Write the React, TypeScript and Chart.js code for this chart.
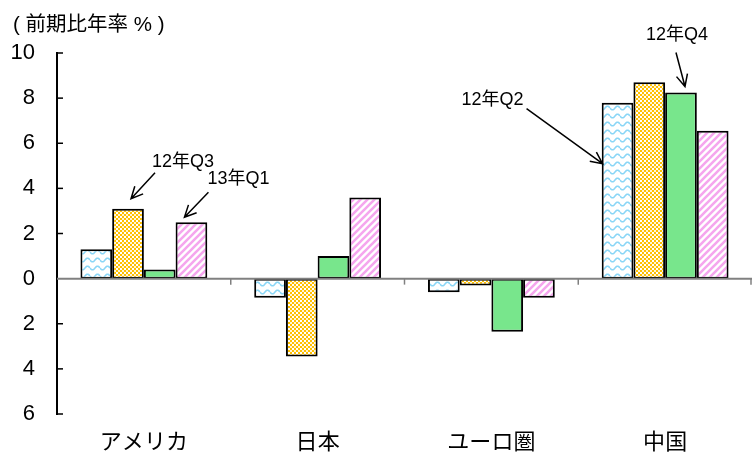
import React, { useEffect, useRef } from "react";
import { Chart, registerables } from "chart.js";

Chart.register(...registerables);

const categories = ["アメリカ", "日本", "ユーロ圏", "中国"];
const seriesNames = ["12年Q2", "12年Q3", "12年Q4", "13年Q1"];
const q2_2012 = [1.3, -0.85, -0.6, 7.8];
const q3_2012 = [3.1, -3.45, -0.3, 8.7];
const q4_2012 = [0.4, 1.0, -2.35, 8.25];
const q1_2013 = [2.5, 3.6, -0.85, 6.55];
const yTicks = [-6, -4, -2, 0, 2, 4, 6, 8, 10];
const unitLabel = "( 前期比年率 % )";
// which bar each callout label points at: [series index, category index]
const calloutSeries = [1, 3, 0, 2];
const calloutCategory = [0, 0, 3, 3];

const FONT = "'Liberation Sans', 'Noto Sans CJK JP', sans-serif";

// layout of callouts relative to the targeted bar (tip, tail, text) — style only
const calloutLayout = [
  { tip: [3, -10], tail: [27, -36], text: [24, -47], align: "left" },
  { tip: [-7, -5], tail: [17, -30], text: [16, -43], align: "left" },
  { tip: [-15, 61], tail: [-91, 6], text: [-156, -3], align: "left" },
  { tip: [4, -6], tail: [-5, -40], text: [-4, -57], align: "center" },
];

function makePattern(kind: string): CanvasPattern | string {
  const c = document.createElement("canvas");
  const ctx = c.getContext("2d")!;
  if (kind === "wave") {
    c.width = 10; c.height = 8;
    ctx.fillStyle = "#ffffff"; ctx.fillRect(0, 0, 10, 8);
    ctx.strokeStyle = "#8ad6f6"; ctx.lineWidth = 1.6;
    ctx.beginPath();
    for (let x = 0; x <= 10; x += 0.5) {
      const y = 4 + 1.8 * Math.sin((x / 10) * Math.PI * 2);
      if (x === 0) ctx.moveTo(x, y); else ctx.lineTo(x, y);
    }
    ctx.stroke();
  } else if (kind === "check") {
    c.width = 4; c.height = 4;
    ctx.fillStyle = "#ffc000"; ctx.fillRect(0, 0, 4, 4);
    ctx.fillStyle = "#ffffff";
    ctx.fillRect(0, 0, 2, 2);
    ctx.fillStyle = "#fff4d6";
    ctx.fillRect(2, 2, 2, 2);
  } else if (kind === "stripe") {
    c.width = 7; c.height = 7;
    ctx.fillStyle = "#ffffff"; ctx.fillRect(0, 0, 7, 7);
    ctx.strokeStyle = "#f5a6ee"; ctx.lineWidth = 2.6;
    ctx.beginPath();
    ctx.moveTo(-1, 8); ctx.lineTo(8, -1);
    ctx.moveTo(-4, 4); ctx.lineTo(4, -4);
    ctx.moveTo(3, 11); ctx.lineTo(11, 3);
    ctx.stroke();
  } else {
    return "#78e68c";
  }
  return ctx.createPattern(c, "repeat")!;
}

const overlayPlugin = {
  id: "overlay",
  afterDatasetsDraw(chart: any) {
    const { ctx, chartArea } = chart;
    const xs = chart.scales.x;
    const ys = chart.scales.y;
    const y0 = ys.getPixelForValue(0);
    ctx.save();
    ctx.strokeStyle = "#808080";
    ctx.lineWidth = 2;
    ctx.beginPath();
    ctx.moveTo(chartArea.left, y0);
    ctx.lineTo(chartArea.right, y0);
    ctx.stroke();
    ctx.lineWidth = 1.5;
    for (let i = 1; i <= categories.length; i++) {
      const x = Math.min(xs.getPixelForValue(i - 0.5), chartArea.right - 1);
      ctx.beginPath();
      ctx.moveTo(x, y0);
      ctx.lineTo(x, y0 + 6);
      ctx.stroke();
    }
    ctx.strokeStyle = "#000";
    ctx.lineWidth = 1.5;
    yTicks.forEach((v) => {
      if (v === 0) return;
      const y = ys.getPixelForValue(v);
      ctx.beginPath();
      ctx.moveTo(chartArea.left, y);
      ctx.lineTo(chartArea.left + 6, y);
      ctx.stroke();
    });
    ctx.restore();
  },
  afterDraw(chart: any) {
    const { ctx } = chart;
    ctx.save();
    ctx.fillStyle = "#000";
    ctx.font = `20.5px ${FONT}`;
    ctx.textAlign = "left";
    ctx.textBaseline = "middle";
    ctx.fillText(unitLabel, 13, 25);
    ctx.font = `18px ${FONT}`;
    ctx.strokeStyle = "#000";
    ctx.lineWidth = 1.5;
    calloutSeries.forEach((s, k) => {
      const bar = chart.getDatasetMeta(s).data[calloutCategory[k]];
      const L = calloutLayout[k];
      const bx = bar.x;
      const by = Math.min(bar.y, bar.base);
      const tip = [bx + L.tip[0], by + L.tip[1]];
      const tail = [bx + L.tail[0], by + L.tail[1]];
      ctx.beginPath();
      ctx.moveTo(tail[0], tail[1]);
      ctx.lineTo(tip[0], tip[1]);
      const ang = Math.atan2(tail[1] - tip[1], tail[0] - tip[0]);
      const len = 13;
      const spread = 0.45;
      ctx.moveTo(tip[0] + len * Math.cos(ang + spread), tip[1] + len * Math.sin(ang + spread));
      ctx.lineTo(tip[0], tip[1]);
      ctx.lineTo(tip[0] + len * Math.cos(ang - spread), tip[1] + len * Math.sin(ang - spread));
      ctx.stroke();
      ctx.textAlign = L.align as CanvasTextAlign;
      ctx.textBaseline = "middle";
      ctx.fillText(seriesNames[s], bx + L.text[0], by + L.text[1]);
    });
    ctx.restore();
  },
};

export default function App() {
  const ref = useRef<HTMLCanvasElement>(null);
  useEffect(() => {
    document.body.style.margin = "0";
    const fills = [makePattern("wave"), makePattern("check"), makePattern("solid"), makePattern("stripe")];
    const values = [q2_2012, q3_2012, q4_2012, q1_2013];
    const chart = new Chart(ref.current!, {
      type: "bar",
      data: {
        labels: categories,
        datasets: values.map((d, i) => ({
          label: seriesNames[i],
          data: d,
          backgroundColor: fills[i] as any,
          borderColor: "#000",
          borderWidth: 2,
          borderSkipped: false,
          categoryPercentage: 0.73,
          barPercentage: 1.0,
        })),
      },
      options: {
        animation: false,
        responsive: false,
        devicePixelRatio: 1,
        layout: { padding: { top: 53, right: 1, left: 0, bottom: 0 } },
        plugins: { legend: { display: false }, tooltip: { enabled: false }, title: { display: false } },
        scales: {
          x: {
            grid: { display: false, drawTicks: false },
            border: { display: false },
            ticks: { color: "#000", font: { size: 22, family: FONT }, padding: 16, maxRotation: 0 },
            afterFit: (s: any) => { s.height = 48; },
          },
          y: {
            min: -6,
            max: 10,
            afterBuildTicks: (s: any) => { s.ticks = yTicks.map((v) => ({ value: v })); },
            ticks: { color: "#000", font: { size: 22, family: FONT }, padding: 22, callback: (v: any) => String(Math.abs(v)) },
            grid: { display: false, drawTicks: false },
            border: { display: true, color: "#000", width: 2 },
            afterFit: (s: any) => { s.width = 57; },
          },
        },
      },
      plugins: [overlayPlugin],
    });
    return () => chart.destroy();
  }, []);
  return (
    <div style={{ width: 753, height: 462 }}>
      <canvas ref={ref} width={753} height={462} />
    </div>
  );
}
